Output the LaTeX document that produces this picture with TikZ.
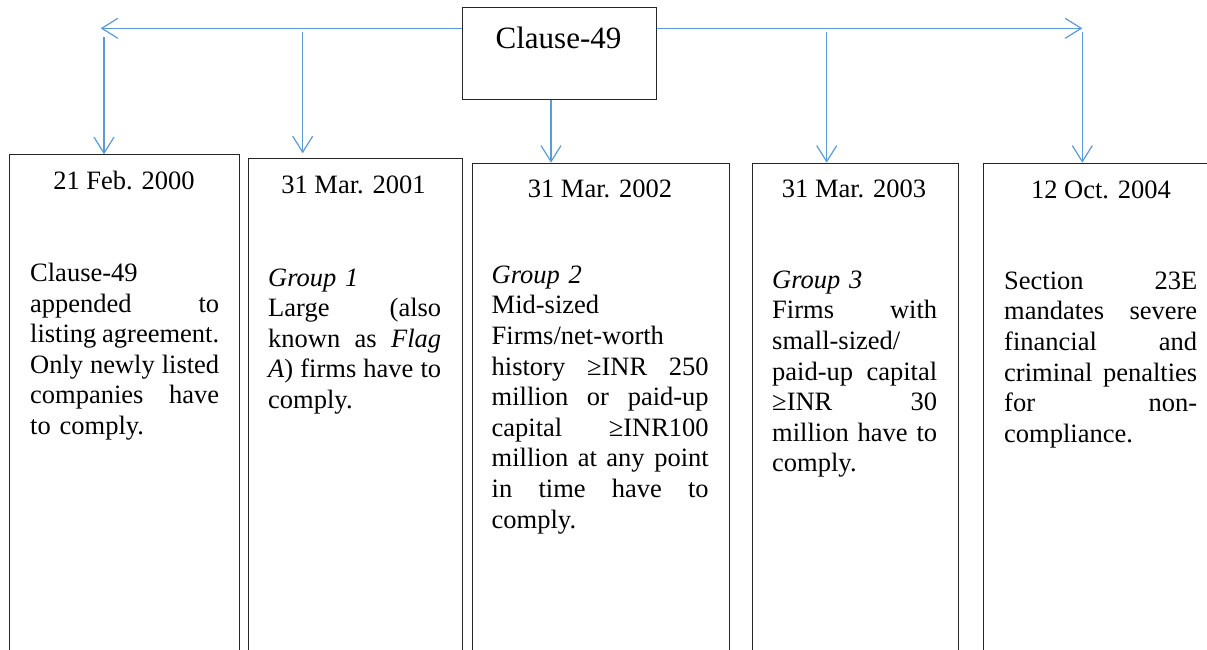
\documentclass[tikz,border=0pt]{standalone}
\usepackage{fontspec}
\setmainfont{Liberation Serif}
\usetikzlibrary{arrows.meta}
\definecolor{connblue}{HTML}{5B9BD5}
\newcommand{\jl}[2]{\leavevmode\hbox to #1{#2}}
\newcommand{\bodyfont}{\fontsize{26.5}{30.6}\selectfont}
\tikzset{
  panel/.style={draw=black!85, line width=1pt, rectangle, inner sep=0pt, anchor=north west},
  conn/.style={draw=connblue, line width=1.2pt, -{Straight Barb[length=16pt,width=20pt,line width=1.2pt]}},
  datelbl/.style={anchor=base, inner sep=0pt, font=\fontsize{26.5}{30.6}\selectfont},
  body/.style={anchor=base west, inner sep=0pt, font=\bodyfont, text width=#1}
}
\begin{document}
\begin{tikzpicture}[x=1pt,y=-1pt]
\useasboundingbox (0,0) rectangle (1207,649);
\clip (0,0) rectangle (1207,649);
\fill[white] (0,0) rectangle (1207,649);

% top box
\node[panel, minimum width=193.7pt, minimum height=91.4pt] (top) at (462,7.3) {};
\node[anchor=base, inner sep=0pt, font=\fontsize{31}{37}\selectfont] (toptxt) at (558.5,48.3) {Clause-49};

% date boxes
\node[panel, minimum width=230.5pt, minimum height=600pt] (b1) at (8.5,154.3) {};
\node[panel, minimum width=214.3pt, minimum height=600pt] (b2) at (248,158.3) {};
\node[panel, minimum width=257.5pt, minimum height=600pt] (b3) at (471.5,162.7) {};
\node[panel, minimum width=206pt, minimum height=600pt] (b4) at (752,162.7) {};
\node[panel, minimum width=250pt, minimum height=600pt] (b5) at (983.3,162.7) {};

% dates
\node[datelbl] (d1) at (124,189.3) {21 Feb. 2000};
\node[datelbl] (d2) at (353.5,193.3) {31 Mar. 2001};
\node[datelbl] (d3) at (600,197.7) {31 Mar. 2002};
\node[datelbl] (d4) at (854,197.7) {31 Mar. 2003};
\node[datelbl] (d5) at (1101,198.3) {12 Oct. 2004};

% bodies
\node[body=189pt] (t1) at (30,281.5) {%
Clause-49\\
\jl{189pt}{appended\hfill to}\\
\jl{189pt}{listing\hfill agreement.}\\
\jl{189pt}{Only\hfill newly\hfill listed}\\
\jl{189pt}{companies\hfill have}\\
to comply.};

\node[body=173pt] (t2) at (268,286) {%
\textit{Group 1}\\
\jl{173pt}{Large\hfill (also}\\
\jl{173pt}{known\hfill as\hfill \textit{Flag}}\\
\jl{173pt}{\textit{A})\hfill firms\hfill have\hfill to}\\
comply.};

\node[body=217pt] (t3) at (491.5,283.3) {%
\textit{Group 2}\\
Mid-sized\\
Firms/net-worth\\
\jl{217pt}{history\hfill ≥INR\hfill 250}\\
\jl{217pt}{million\hfill or\hfill paid-up}\\
\jl{217pt}{capital\hfill ≥INR100}\\
\jl{217pt}{million\hfill at\hfill any\hfill point}\\
\jl{217pt}{in\hfill time\hfill have\hfill to}\\
comply.};

\node[body=165pt] (t4) at (772,288.3) {%
\textit{Group 3}\\
\jl{165pt}{Firms\hfill with}\\
small-sized/\\
\jl{165pt}{paid-up\hfill capital}\\
\jl{165pt}{≥INR\hfill 30}\\
\jl{165pt}{million\hfill have\hfill to}\\
comply.};

\node[body=193pt] (t5) at (1004,289.3) {%
\jl{193pt}{Section\hfill 23E}\\
\jl{193pt}{mandates\hfill severe}\\
\jl{193pt}{financial\hfill and}\\
\jl{193pt}{criminal\hfill penalties}\\
\jl{193pt}{for\hfill non-}\\
compliance.};

% connector coordinates
\coordinate (lt) at (100.7,28.3);
\coordinate (rt) at (1082.3,28.3);
\coordinate (v1) at (104,36.7);
\coordinate (v2) at (302.7,32.3);
\coordinate (v3) at (551,98.7);
\coordinate (v4) at (826.7,32.3);
\coordinate (v5) at (1082.3,32.3);

\draw[conn] (top.west |- lt) -- (lt);
\draw[conn] (top.east |- rt) -- (rt);
\draw[conn] (v1) -- (v1 |- b1.north);
\draw[conn, shorten >=5pt] (v2) -- (v2 |- b2.north);
\draw[conn] (v3 |- top.south) -- (v3 |- b3.north);
\draw[conn] (v4) -- (v4 |- b4.north);
\draw[conn] (v5) -- (v5 |- b5.north);
\end{tikzpicture}
\end{document}
